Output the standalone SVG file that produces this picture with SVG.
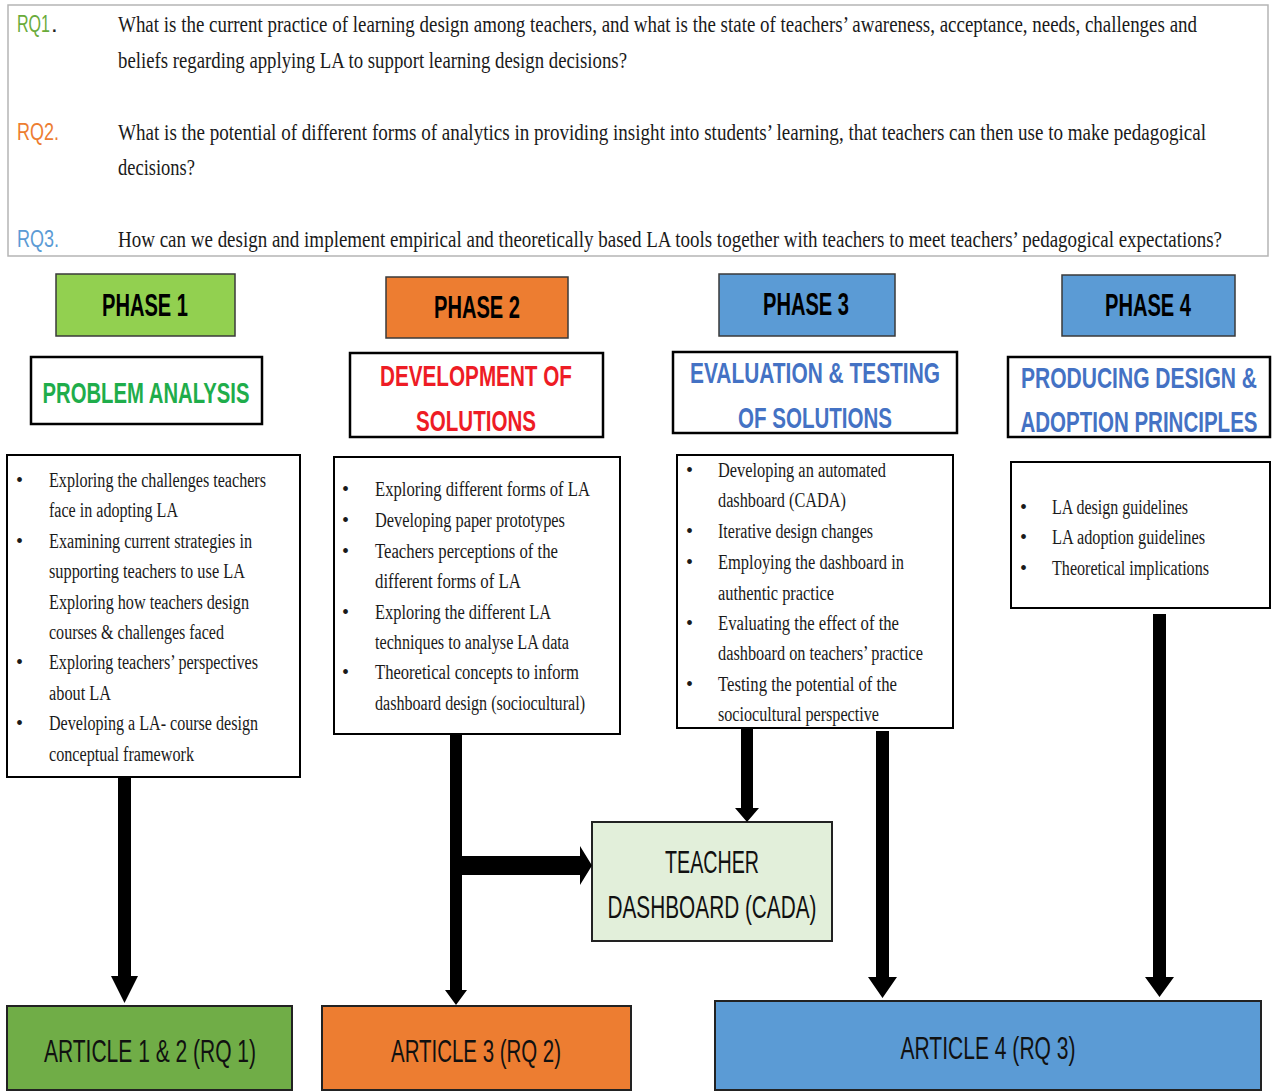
<svg xmlns="http://www.w3.org/2000/svg" width="1273" height="1091" viewBox="0 0 1273 1091">
<style>
.rq{font-family:"Liberation Serif","DejaVu Serif",serif;font-size:23px;fill:#1a1a1a}
.rql{font-family:"Liberation Sans Narrow","Liberation Sans",sans-serif;font-size:24px}
.ph{font-family:"Liberation Sans Narrow","Liberation Sans",sans-serif;font-size:31px;font-weight:bold;fill:#000;text-anchor:middle}
.phbox{stroke:#3a3a3a;stroke-width:1.5}
.tbox{fill:#fff;stroke:#000;stroke-width:2.5}
.tt{font-family:"Liberation Sans Narrow","Liberation Sans",sans-serif;font-size:30px;font-weight:bold;text-anchor:middle}
.bbox{fill:#fff;stroke:#000;stroke-width:2}
.b{font-family:"Liberation Serif","DejaVu Serif",serif;font-size:20px;fill:#1a1a1a}
.art{font-family:"Liberation Sans Narrow","Liberation Sans",sans-serif;font-size:31px;fill:#111;text-anchor:middle}
.abox{stroke:#222;stroke-width:2}
.arrow{fill:#000}
</style>

<g id="research-questions">
<rect x="8" y="5" width="1260" height="251" fill="#fff" stroke="#b5b5b5" stroke-width="1.5"/>
<text class="rql" x="17" y="32" fill="#6aab3a" textLength="33" lengthAdjust="spacingAndGlyphs">RQ1</text>
<text class="rql" x="51" y="32" fill="#222">.</text>
<text class="rq" x="118" y="32" textLength="1079" lengthAdjust="spacingAndGlyphs">What is the current practice of learning design among teachers, and what is the state of teachers’ awareness, acceptance, needs, challenges and</text>
<text class="rq" x="118" y="68" textLength="509" lengthAdjust="spacingAndGlyphs">beliefs regarding applying LA to support learning design decisions?</text>
<text class="rql" x="17" y="140" fill="#ed7d31" textLength="42" lengthAdjust="spacingAndGlyphs">RQ2.</text>
<text class="rq" x="118" y="140" textLength="1088" lengthAdjust="spacingAndGlyphs">What is the potential of different forms of analytics in providing insight into students’ learning, that teachers can then use to make pedagogical</text>
<text class="rq" x="118" y="175" textLength="77" lengthAdjust="spacingAndGlyphs">decisions?</text>
<text class="rql" x="17" y="247" fill="#5b9bd5" textLength="42" lengthAdjust="spacingAndGlyphs">RQ3.</text>
<text class="rq" x="118" y="247" textLength="1104" lengthAdjust="spacingAndGlyphs">How can we design and implement empirical and theoretically based  LA tools together with teachers to meet teachers’ pedagogical expectations?</text>
</g>

<g id="phase1">
<rect class="phbox" x="56" y="274" width="179" height="62" fill="#92d050"/>
<text class="ph" x="145" y="316" textLength="86" lengthAdjust="spacingAndGlyphs">PHASE 1</text>
</g>
<g id="phase2">
<rect class="phbox" x="386" y="277" width="182" height="61" fill="#ed7d31"/>
<text class="ph" x="477" y="318" textLength="86" lengthAdjust="spacingAndGlyphs">PHASE 2</text>
</g>
<g id="phase3">
<rect class="phbox" x="719" y="274" width="176" height="62" fill="#5b9bd5"/>
<text class="ph" x="806" y="315" textLength="86" lengthAdjust="spacingAndGlyphs">PHASE 3</text>
</g>
<g id="phase4">
<rect class="phbox" x="1062" y="275" width="173" height="61" fill="#5b9bd5"/>
<text class="ph" x="1148" y="316" textLength="86" lengthAdjust="spacingAndGlyphs">PHASE 4</text>
</g>

<g id="title1">
<rect class="tbox" x="31" y="357" width="231" height="67"/>
<text class="tt" x="146" y="403" fill="#1fad4b" textLength="207" lengthAdjust="spacingAndGlyphs">PROBLEM ANALYSIS</text>
</g>
<g id="title2">
<rect class="tbox" x="350" y="353" width="253" height="84"/>
<text class="tt" x="476" y="386" fill="#ee1c25" textLength="192" lengthAdjust="spacingAndGlyphs">DEVELOPMENT OF</text>
<text class="tt" x="476" y="431" fill="#ee1c25" textLength="120" lengthAdjust="spacingAndGlyphs">SOLUTIONS</text>
</g>
<g id="title3">
<rect class="tbox" x="673" y="352" width="284" height="81"/>
<text class="tt" x="815" y="383" fill="#4472c4" textLength="250" lengthAdjust="spacingAndGlyphs">EVALUATION &amp; TESTING</text>
<text class="tt" x="815" y="428" fill="#4472c4" textLength="154" lengthAdjust="spacingAndGlyphs">OF SOLUTIONS</text>
</g>
<g id="title4">
<rect class="tbox" x="1008" y="357" width="262" height="80"/>
<text class="tt" x="1139" y="388" fill="#4472c4" textLength="236" lengthAdjust="spacingAndGlyphs">PRODUCING DESIGN &amp;</text>
<text class="tt" x="1139" y="432" fill="#4472c4" textLength="237" lengthAdjust="spacingAndGlyphs">ADOPTION PRINCIPLES</text>
</g>

<g id="activities1">
<rect class="bbox" x="7" y="455" width="293" height="322"/>
<text class="b" x="16" y="487">•</text>
<text class="b" x="49" y="487" textLength="217" lengthAdjust="spacingAndGlyphs">Exploring the challenges teachers</text>
<text class="b" x="49" y="517" textLength="129" lengthAdjust="spacingAndGlyphs">face in adopting LA</text>
<text class="b" x="16" y="548">•</text>
<text class="b" x="49" y="548" textLength="203" lengthAdjust="spacingAndGlyphs">Examining current strategies in</text>
<text class="b" x="49" y="578" textLength="196" lengthAdjust="spacingAndGlyphs">supporting teachers to use LA</text>
<text class="b" x="49" y="609" textLength="200" lengthAdjust="spacingAndGlyphs">Exploring how teachers design</text>
<text class="b" x="49" y="639" textLength="175" lengthAdjust="spacingAndGlyphs">courses &amp; challenges faced</text>
<text class="b" x="16" y="669">•</text>
<text class="b" x="49" y="669" textLength="209" lengthAdjust="spacingAndGlyphs">Exploring teachers’ perspectives</text>
<text class="b" x="49" y="700" textLength="62" lengthAdjust="spacingAndGlyphs">about LA</text>
<text class="b" x="16" y="730">•</text>
<text class="b" x="49" y="730" textLength="209" lengthAdjust="spacingAndGlyphs">Developing a LA- course design</text>
<text class="b" x="49" y="761" textLength="145" lengthAdjust="spacingAndGlyphs">conceptual framework</text>
</g>

<g id="activities2">
<rect class="bbox" x="334" y="457" width="286" height="277"/>
<text class="b" x="342" y="496">•</text>
<text class="b" x="375" y="496" textLength="215" lengthAdjust="spacingAndGlyphs">Exploring different forms of LA</text>
<text class="b" x="342" y="527">•</text>
<text class="b" x="375" y="527" textLength="190" lengthAdjust="spacingAndGlyphs">Developing paper prototypes</text>
<text class="b" x="342" y="558">•</text>
<text class="b" x="375" y="558" textLength="183" lengthAdjust="spacingAndGlyphs">Teachers perceptions of the</text>
<text class="b" x="375" y="588" textLength="146" lengthAdjust="spacingAndGlyphs">different forms of LA</text>
<text class="b" x="342" y="619">•</text>
<text class="b" x="375" y="619" textLength="176" lengthAdjust="spacingAndGlyphs">Exploring the different LA</text>
<text class="b" x="375" y="649" textLength="194" lengthAdjust="spacingAndGlyphs">techniques to analyse LA data</text>
<text class="b" x="342" y="679">•</text>
<text class="b" x="375" y="679" textLength="204" lengthAdjust="spacingAndGlyphs">Theoretical concepts to inform</text>
<text class="b" x="375" y="710" textLength="210" lengthAdjust="spacingAndGlyphs">dashboard design (sociocultural)</text>
</g>

<g id="activities3">
<rect class="bbox" x="677" y="455" width="276" height="273"/>
<text class="b" x="686" y="477">•</text>
<text class="b" x="718" y="477" textLength="168" lengthAdjust="spacingAndGlyphs">Developing an automated</text>
<text class="b" x="718" y="507" textLength="128" lengthAdjust="spacingAndGlyphs">dashboard (CADA)</text>
<text class="b" x="686" y="538">•</text>
<text class="b" x="718" y="538" textLength="155" lengthAdjust="spacingAndGlyphs">Iterative design changes</text>
<text class="b" x="686" y="569">•</text>
<text class="b" x="718" y="569" textLength="186" lengthAdjust="spacingAndGlyphs">Employing the dashboard in</text>
<text class="b" x="718" y="600" textLength="116" lengthAdjust="spacingAndGlyphs">authentic practice</text>
<text class="b" x="686" y="630">•</text>
<text class="b" x="718" y="630" textLength="181" lengthAdjust="spacingAndGlyphs">Evaluating the effect of the</text>
<text class="b" x="718" y="660" textLength="205" lengthAdjust="spacingAndGlyphs">dashboard on teachers’ practice</text>
<text class="b" x="686" y="691">•</text>
<text class="b" x="718" y="691" textLength="179" lengthAdjust="spacingAndGlyphs">Testing the potential of the</text>
<text class="b" x="718" y="721" textLength="161" lengthAdjust="spacingAndGlyphs">sociocultural perspective</text>
</g>

<g id="activities4">
<rect class="bbox" x="1011" y="462" width="259" height="146"/>
<text class="b" x="1020" y="514">•</text>
<text class="b" x="1052" y="514" textLength="136" lengthAdjust="spacingAndGlyphs">LA design guidelines</text>
<text class="b" x="1020" y="544">•</text>
<text class="b" x="1052" y="544" textLength="153" lengthAdjust="spacingAndGlyphs">LA adoption guidelines</text>
<text class="b" x="1020" y="575">•</text>
<text class="b" x="1052" y="575" textLength="157" lengthAdjust="spacingAndGlyphs">Theoretical implications</text>
</g>

<g id="dashboard">
<rect class="abox" x="592" y="822" width="240" height="119" fill="#e2efda"/>
<text class="art" x="712" y="873" textLength="94" lengthAdjust="spacingAndGlyphs">TEACHER</text>
<text class="art" x="712" y="918" textLength="209" lengthAdjust="spacingAndGlyphs">DASHBOARD (CADA)</text>
</g>

<g id="article1">
<rect class="abox" x="7" y="1006" width="285" height="84" fill="#70ad47"/>
<text class="art" x="150" y="1062" textLength="212" lengthAdjust="spacingAndGlyphs">ARTICLE 1 &amp; 2 (RQ 1)</text>
</g>
<g id="article2">
<rect class="abox" x="322" y="1006" width="309" height="84" fill="#ed7d31"/>
<text class="art" x="476" y="1062" textLength="170" lengthAdjust="spacingAndGlyphs">ARTICLE 3 (RQ 2)</text>
</g>
<g id="article3">
<rect class="abox" x="715" y="1001" width="546" height="89" fill="#5b9bd5"/>
<text class="art" x="988" y="1059" textLength="175" lengthAdjust="spacingAndGlyphs">ARTICLE 4  (RQ 3)</text>
</g>

<g id="connectors">
<polygon class="arrow" points="118,777 131,777 131,976 138,976 124.5,1003 111,976 118,976"/>
<polygon class="arrow" points="450,734 462,734 462,856 580,856 580,846 592,865.5 580,885 580,875 462,875 462,990 467,990 456,1005 445,990 450,990"/>
<polygon class="arrow" points="741,728 753,728 753,808 759,808 747,822 735,808 741,808"/>
<polygon class="arrow" points="876,731 889,731 889,977 897,977 882.5,998 868,977 876,977"/>
<polygon class="arrow" points="1153,614 1166,614 1166,977 1174,977 1159.5,997 1145,977 1153,977"/>
</g>
</svg>
